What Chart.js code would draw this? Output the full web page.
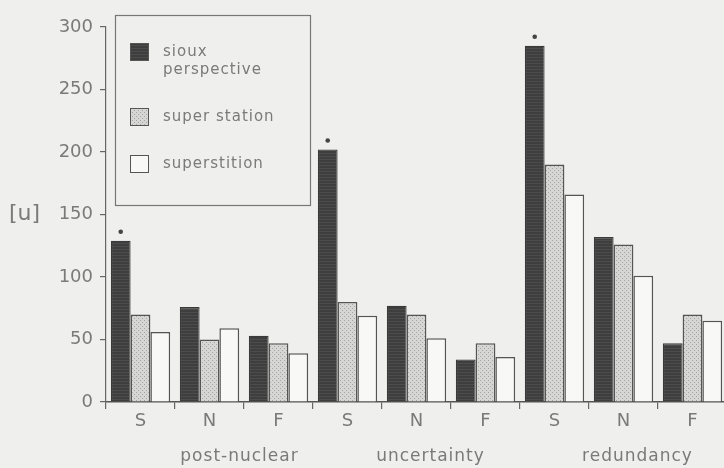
<!DOCTYPE html>
<html>
<head>
<meta charset="utf-8">
<script src="https://cdn.jsdelivr.net/npm/chart.js@4/dist/chart.umd.min.js"></script>
<style>
  html, body { margin: 0; padding: 0; background: #efefed; overflow: hidden; }
  #wrap { position: relative; width: 730px; height: 468px; }
</style>
</head>
<body>
<div id="wrap"><canvas id="c"></canvas></div>
<script>
// Conditions within each group and the group names
const categories = ['S', 'N', 'F', 'S', 'N', 'F', 'S', 'N', 'F'];
const groups = ['post-nuclear', 'uncertainty', 'redundancy'];

// Series values [u]
const siouxPerspective = [129, 76, 53, 202, 77, 34, 285, 132, 47];
const superStation     = [70, 50, 47, 80, 70, 47, 190, 126, 70];
const superstition     = [56, 59, 39, 69, 51, 36, 166, 101, 65];

// Categories whose first-series bar carries a marker dot
const marked = [1, 0, 0, 1, 0, 0, 1, 0, 0];

// Axis ticks
const yTicks = [0, 50, 100, 150, 200, 250, 300];

const INK = '#555';
const TEXT = '#7a7a7a';
const FONT = '"DejaVu Sans", sans-serif';

function dotPattern() {
  const p = document.createElement('canvas');
  p.width = 4; p.height = 4;
  const g = p.getContext('2d');
  g.fillStyle = '#d6d6d4';
  g.fillRect(0, 0, 4, 4);
  g.fillStyle = '#a4a4a2';
  g.fillRect(0, 0, 1, 1);
  g.fillRect(2, 2, 1, 1);
  return g.createPattern(p, 'repeat');
}
function stripePattern() {
  const p = document.createElement('canvas');
  p.width = 4; p.height = 3;
  const g = p.getContext('2d');
  g.fillStyle = '#3e3e3e';
  g.fillRect(0, 0, 4, 3);
  g.fillStyle = '#4c4c4c';
  g.fillRect(0, 0, 4, 1);
  return g.createPattern(p, 'repeat');
}

// Boxed legend drawn inside the plot area, plus group titles, unit label and markers
const extras = {
  id: 'extras',
  afterDraw(chart) {
    const ctx = chart.ctx;
    const x = chart.scales.x, y = chart.scales.y;
    ctx.save();

    // marker dots above flagged bars
    const meta = chart.getDatasetMeta(0);
    ctx.fillStyle = '#444';
    marked.forEach((m, i) => {
      if (!m) return;
      const bar = meta.data[i];
      ctx.beginPath();
      ctx.arc(bar.x, bar.y - 9, 2.3, 0, Math.PI * 2);
      ctx.fill();
    });

    // unit label beside the 150 tick
    ctx.fillStyle = TEXT;
    ctx.font = '22px ' + FONT;
    ctx.textAlign = 'left';
    ctx.textBaseline = 'middle';
    ctx.fillText('[u]', 9, y.getPixelForValue(150));

    // group titles under each triple of conditions
    ctx.font = '17px ' + FONT;
    ctx.textAlign = 'center';
    ctx.textBaseline = 'middle';
    ctx.letterSpacing = '1px';
    groups.forEach((g, k) => {
      const cx = x.getPixelForValue(k * 3 + 1);
      ctx.fillText(g, cx + (k === 0 ? 30 : 14), 457);
    });

    // legend box
    const lx = 115, ly = 15, lw = 195, lh = 190;
    ctx.fillStyle = '#efefed';
    ctx.fillRect(lx, ly, lw, lh);
    ctx.strokeStyle = '#777';
    ctx.lineWidth = 1.2;
    ctx.strokeRect(lx + 0.5, ly + 0.5, lw, lh);

    const rows = [
      { lines: ['sioux', 'perspective'], top: 43 },
      { lines: ['super station'], top: 108 },
      { lines: ['superstition'], top: 155 }
    ];
    ctx.font = '15px ' + FONT;
    ctx.textAlign = 'left';
    ctx.letterSpacing = '1px';
    chart.data.datasets.forEach((ds, i) => {
      const r = rows[i];
      ctx.fillStyle = ds.backgroundColor;
      ctx.fillRect(130, r.top, 18, 17);
      ctx.strokeStyle = INK;
      ctx.lineWidth = 1;
      ctx.strokeRect(130.5, r.top + 0.5, 18, 17);
      ctx.fillStyle = TEXT;
      const lines = ds.label.split('\n');
      lines.forEach((t, j) => ctx.fillText(t, 163, r.top + 9 + j * 18));
    });
    ctx.restore();
  }
};

new Chart(document.getElementById('c'), {
  type: 'bar',
  data: {
    labels: categories,
    datasets: [
      { label: 'sioux\nperspective', data: siouxPerspective, backgroundColor: stripePattern(), borderColor: '#3a3a3a', borderWidth: 1.2 },
      { label: 'super station', data: superStation, backgroundColor: dotPattern(), borderColor: INK, borderWidth: 1.5 },
      { label: 'superstition', data: superstition, backgroundColor: '#f8f8f6', borderColor: INK, borderWidth: 1.5 }
    ]
  },
  options: {
    responsive: true,
    maintainAspectRatio: false,
    animation: false,
    devicePixelRatio: 1,
    layout: { padding: { top: 27, right: 3, left: 0, bottom: 0 } },
    datasets: { bar: { categoryPercentage: 0.86, barPercentage: 1.0 } },
    plugins: { legend: { display: false }, tooltip: { enabled: false } },
    scales: {
      x: {
        offset: true,
        grid: { offset: true, drawOnChartArea: false, drawTicks: true, tickLength: 7, color: '#666', lineWidth: 1.2 },
        border: { display: true, color: '#555', width: 1.5 },
        ticks: { color: TEXT, font: { family: FONT, size: 18 }, padding: 2, maxRotation: 0 },
        afterFit(s) { s.height = 66; }
      },
      y: {
        min: 0, max: 300,
        afterBuildTicks(s) { s.ticks = yTicks.map(v => ({ value: v })); },
        grid: { drawOnChartArea: false, drawTicks: true, tickLength: 6, color: '#666', lineWidth: 1.2 },
        border: { display: true, color: '#666', width: 1.2 },
        ticks: { color: TEXT, font: { family: FONT, size: 18 }, padding: 7 },
        afterFit(s) { s.width = 106; }
      }
    }
  },
  plugins: [extras]
});
</script>
</body>
</html>
